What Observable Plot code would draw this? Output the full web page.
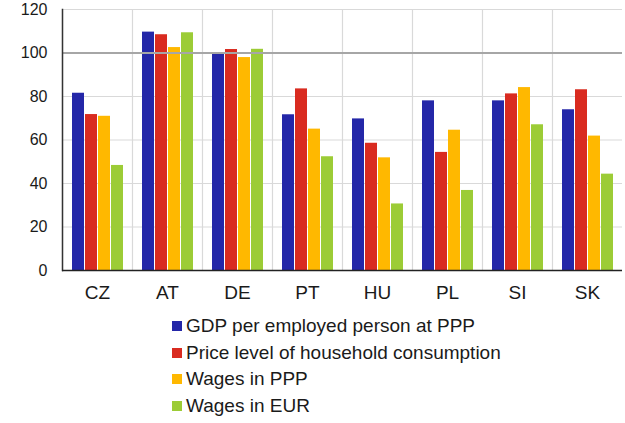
<!DOCTYPE html>
<html>
<head>
<meta charset="utf-8">
<script src="https://cdn.jsdelivr.net/npm/d3@7"></script>
<script src="https://cdn.jsdelivr.net/npm/@observablehq/plot@0.6"></script>
<style>
  body { margin: 0; background: #fff; font-family: "Liberation Sans", Arial, sans-serif; }
  #chart svg { display: block; }
  .legend { margin-top: 3px; padding-left: 172px; color: #1a1a1a; font-size: 19px; }
  .legend .row { display: flex; align-items: center; height: 26.6px; }
  .legend .sw { width: 10px; height: 10px; margin-right: 4px; flex: none; }
</style>
</head>
<body>
<div id="chart"></div>
<script>
const countries = ["CZ", "AT", "DE", "PT", "HU", "PL", "SI", "SK"];
const seriesNames = ["GDP per employed person at PPP", "Price level of household consumption", "Wages in PPP", "Wages in EUR"];
const gdpPPP   = [81.5, 109.6, 99.5, 71.6, 69.7, 78.0, 78.0, 73.9];
const priceLvl = [71.7, 108.4, 101.6, 83.5, 58.5, 54.3, 81.2, 83.1];
const wagesPPP = [70.9, 102.5, 97.9, 65.0, 51.8, 64.5, 84.1, 61.8];
const wagesEUR = [48.3, 109.3, 101.7, 52.3, 30.6, 36.8, 67.0, 44.3];
const yTicks = [0, 20, 40, 60, 80, 100, 120];
const gridTicks = [20, 40, 60, 80, 120];
const colors = ["#2427a8", "#d92b20", "#ffb800", "#9ccc36"];

const seriesValues = [gdpPPP, priceLvl, wagesPPP, wagesEUR];
const data = [];
countries.forEach((c, i) => {
  seriesNames.forEach((s, j) => data.push({country: c, series: s, value: seriesValues[j][i]}));
});

const chart = Plot.plot({
  width: 625,
  height: 310,
  marginLeft: 58,
  marginRight: 0,
  marginTop: 9,
  marginBottom: 40,
  style: {fontFamily: "'Liberation Sans', Arial, sans-serif", fontSize: "16px", color: "#1a1a1a", background: "#fff"},
  fx: {domain: countries, padding: 0, label: null},
  x: {domain: seriesNames, paddingInner: 0.077, paddingOuter: 0.71, axis: null},
  y: {domain: [0, 120], label: null},
  color: {domain: seriesNames, range: colors},
  marks: [
    Plot.ruleY(gridTicks, {stroke: "#d9d9d9", strokeWidth: 1.2}),
    Plot.frame({anchor: "left", stroke: "#d9d9d9", strokeWidth: 1.2}),
    Plot.barY(data, {fx: "country", x: "series", y: "value", fill: "series"}),
    Plot.ruleY([100], {stroke: "#a6a6a6", strokeWidth: 2}),
    Plot.frame({anchor: "left", stroke: "#333", strokeWidth: 1.5, facet: "super"}),
    Plot.ruleY([0], {stroke: "#222", strokeWidth: 1.5}),
    Plot.axisY({ticks: yTicks, tickSize: 0, tickPadding: 15, label: null, fontSize: 16}),
    Plot.axisFx({anchor: "bottom", tickSize: 0, tickPadding: 15, label: null, fontSize: 19})
  ]
});
document.getElementById("chart").appendChild(chart);

const legend = document.createElement("div");
legend.className = "legend";
seriesNames.forEach((s, j) => {
  const row = document.createElement("div");
  row.className = "row";
  const sw = document.createElement("span");
  sw.className = "sw";
  sw.style.background = colors[j];
  const t = document.createElement("span");
  t.textContent = s;
  row.appendChild(sw);
  row.appendChild(t);
  legend.appendChild(row);
});
document.body.appendChild(legend);
</script>
</body>
</html>
